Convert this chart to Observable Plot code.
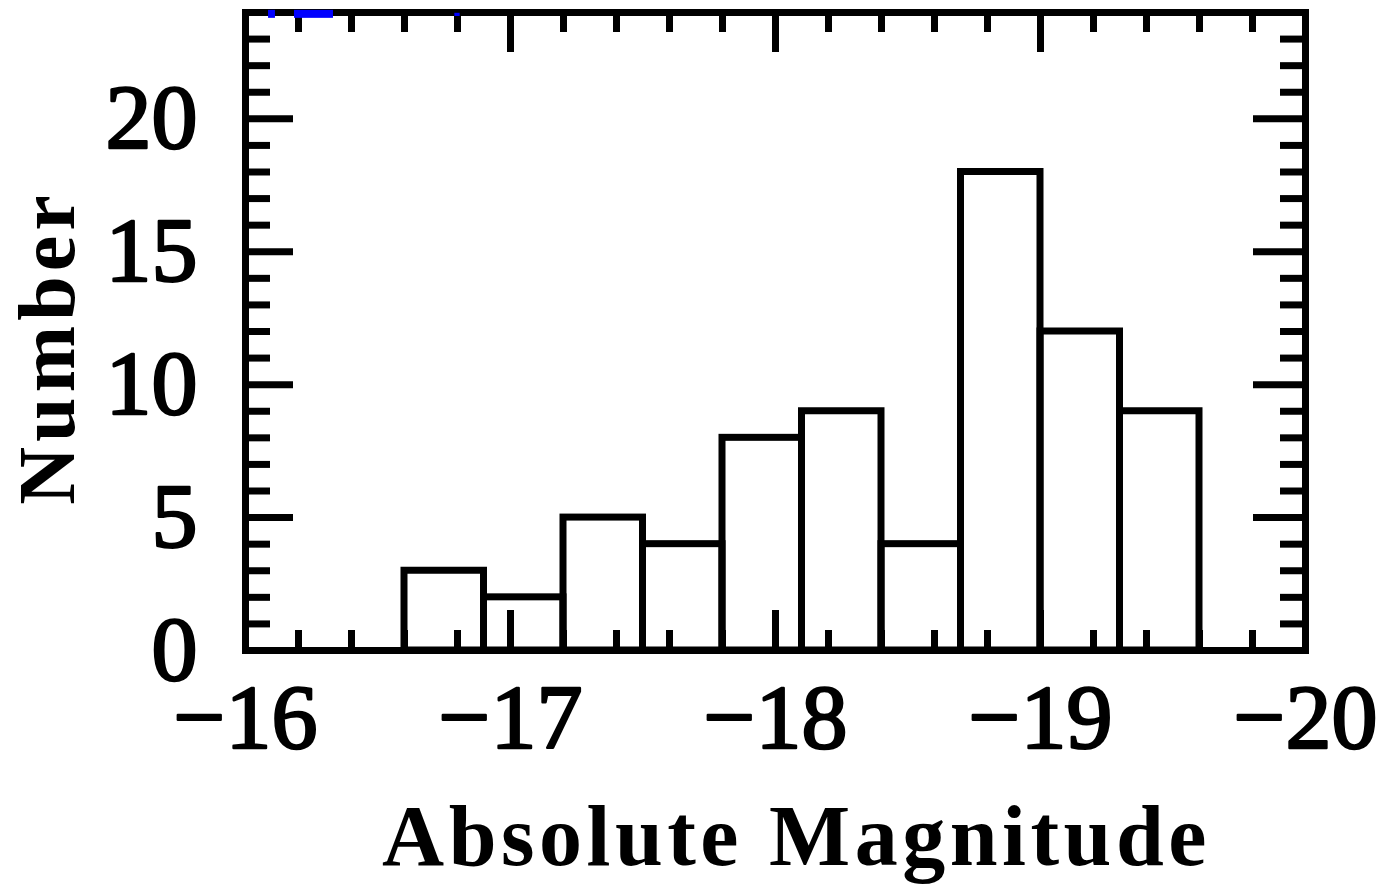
<!DOCTYPE html>
<html>
<head>
<meta charset="utf-8">
<script src="https://cdn.jsdelivr.net/npm/d3@7"></script>
<script src="https://cdn.jsdelivr.net/npm/@observablehq/plot@0.6"></script>
<style>
  html, body { margin: 0; padding: 0; background: #fff; }
  #chart svg { display: block; }
</style>
</head>
<body>
<div id="chart"></div>
<script>
// Histogram bins (absolute magnitude) and counts
const binStart = [-16.6, -16.9, -17.2, -17.5, -17.8, -18.1, -18.4, -18.7, -19.0, -19.3];
const binEnd   = [-16.9, -17.2, -17.5, -17.8, -18.1, -18.4, -18.7, -19.0, -19.3, -19.6];
const counts   = [3, 2, 5, 4, 8, 9, 4, 18, 12, 9];

// Tick values
const xMajor = [-16, -17, -18, -19, -20];
const xMinor = [-16.2, -16.4, -16.6, -16.8, -17.2, -17.4, -17.6, -17.8, -18.2, -18.4, -18.6, -18.8, -19.2, -19.4, -19.6, -19.8];
const yMajor = [0, 5, 10, 15, 20];
const yMinor = [1, 2, 3, 4, 6, 7, 8, 9, 11, 12, 13, 14, 16, 17, 18, 19, 21, 22, 23];

// Small blue marks along the top edge of the frame
const blueX1 = [-16.087, -16.185, -16.79];
const blueX2 = [-16.113, -16.332, -16.81];
const blueY1 = [23.78, 23.78, 23.85];
const blueY2 = [24.08, 24.08, 23.97];

const xLabel = "Absolute Magnitude";
const yLabel = "Number";

const bins = binStart.map((s, i) => ({x1: s, x2: binEnd[i], n: counts[i]}));
const blue = blueX1.map((v, i) => ({x1: v, x2: blueX2[i], y1: blueY1[i], y2: blueY2[i]}));

const W = 1395, H = 884;
const mL = 245, mR = 90, mT = 12, mB = 234;
const fw = W - mL - mR, fh = H - mT - mB;
const font = "'Liberation Serif', 'Times New Roman', serif";
const sw = 7;
const fmt = d3.format("d");

const chart = Plot.plot({
  width: W,
  height: H,
  marginLeft: mL,
  marginRight: mR,
  marginTop: mT,
  marginBottom: mB,
  style: {background: "#fff", color: "#000"},
  x: {domain: [-16, -20], label: null},
  y: {domain: [0, 24], label: null},
  marks: [
    Plot.rect(bins, {x1: "x1", x2: "x2", y1: 0, y2: "n", fill: "none", stroke: "#000", strokeWidth: sw}),
    // bottom ticks
    Plot.ruleX(xMajor, {insetTop: fh - 40, stroke: "#000", strokeWidth: sw}),
    Plot.ruleX(xMinor, {insetTop: fh - 20, stroke: "#000", strokeWidth: sw}),
    // top ticks
    Plot.ruleX(xMajor, {insetBottom: fh - 40, stroke: "#000", strokeWidth: sw}),
    Plot.ruleX(xMinor, {insetBottom: fh - 20, stroke: "#000", strokeWidth: sw}),
    // left ticks
    Plot.ruleY(yMajor, {insetRight: fw - 48, stroke: "#000", strokeWidth: sw}),
    Plot.ruleY(yMinor, {insetRight: fw - 25, stroke: "#000", strokeWidth: sw}),
    // right ticks
    Plot.ruleY(yMajor, {insetLeft: fw - 52, stroke: "#000", strokeWidth: sw}),
    Plot.ruleY(yMinor, {insetLeft: fw - 25, stroke: "#000", strokeWidth: sw}),
    Plot.frame({stroke: "#000", strokeWidth: sw}),
    Plot.rect(blue, {x1: "x1", x2: "x2", y1: "y1", y2: "y2", fill: "#0000ff"}),
    // tick labels
    Plot.axisX(xMajor, {tickSize: 0, tickPadding: 32, tickFormat: fmt, fontSize: 92, fontFamily: font,
      fontWeight: "normal", textStroke: "#000", textStrokeWidth: 2.5, label: null}),
    Plot.axisY(yMajor, {tickSize: 0, tickPadding: 48, tickFormat: fmt, fontSize: 92, fontFamily: font,
      fontWeight: "normal", textStroke: "#000", textStrokeWidth: 2.5, label: null}),
    // axis titles
    Plot.text([xLabel], {text: d => d, frameAnchor: "bottom", dx: 21, dy: 214, lineAnchor: "bottom",
      fontSize: 86, fontFamily: font, fontWeight: "bold", fill: "#000"}),
    Plot.text([yLabel], {text: d => d, frameAnchor: "left", textAnchor: "middle", dx: -197, dy: 16, rotate: -90,
      lineAnchor: "middle", fontSize: 80, fontFamily: font, fontWeight: "bold", fill: "#000"})
  ]
});

document.getElementById("chart").appendChild(chart);
d3.select(chart).selectAll("text").filter(function() { return this.textContent === xLabel; }).style("letter-spacing", "4.5px");
d3.select(chart).selectAll("text").filter(function() { return this.textContent === yLabel; }).style("letter-spacing", "5px");
</script>
</body>
</html>
